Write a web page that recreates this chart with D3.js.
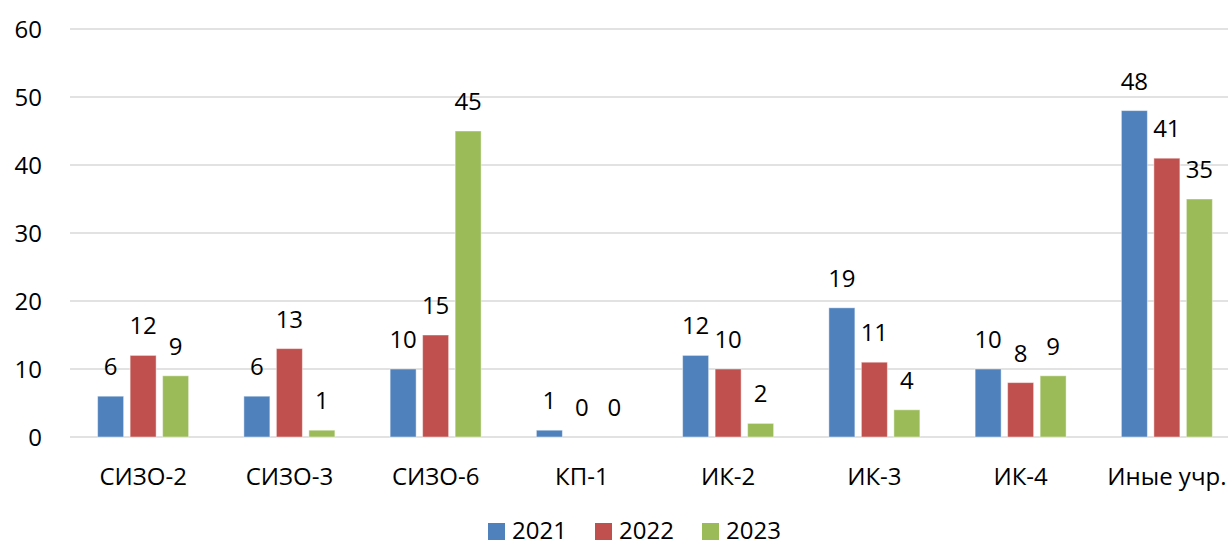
<!DOCTYPE html>
<html>
<head>
<meta charset="utf-8">
<script src="https://cdn.jsdelivr.net/npm/d3@7"></script>
<style>
  html, body { margin: 0; padding: 0; background: #fff; }
  svg { display: block; }
  text { font-family: "Open Sans", "Liberation Sans", sans-serif; fill: #000; }
</style>
</head>
<body>
<svg id="chart" width="1228" height="546"></svg>
<script>
const categories = ["СИЗО-2", "СИЗО-3", "СИЗО-6", "КП-1", "ИК-2", "ИК-3", "ИК-4", "Иные учр."];
const seriesNames = ["2021", "2022", "2023"];
const values2021 = [6, 6, 10, 1, 12, 19, 10, 48];
const values2022 = [12, 13, 15, 0, 10, 11, 8, 41];
const values2023 = [9, 1, 45, 0, 2, 4, 9, 35];
const yTicks = [0, 10, 20, 30, 40, 50, 60];
const colors = ["#4F81BD", "#C0504D", "#9BBB59"];

const series = [values2021, values2022, values2023];

const svg = d3.select("#chart");
const W = 1228, H = 546;
const plotLeft = 70, plotRight = 1240, plotTop = 29, plotBottom = 437;
const fontSize = 24;

const x = d3.scaleBand().domain(categories).range([plotLeft, plotRight]);
const y = d3.scaleLinear().domain([0, 60]).range([plotBottom, plotTop]);

// three bars per category, centred in each band
const bw = x.bandwidth();
const clusterHalf = 45.5;
const inner = d3.scaleBand().domain(seriesNames)
  .range([bw / 2 - clusterHalf, bw / 2 + clusterHalf])
  .paddingInner(0.2).paddingOuter(0);

// horizontal grid
svg.append("g")
  .selectAll("line")
  .data(yTicks)
  .join("line")
  .attr("x1", plotLeft)
  .attr("x2", W)
  .attr("y1", d => y(d))
  .attr("y2", d => y(d))
  .attr("stroke", "#D9D9D9")
  .attr("stroke-width", 1.5);

// y tick labels
svg.append("g")
  .selectAll("text")
  .data(yTicks)
  .join("text")
  .attr("x", 42)
  .attr("y", d => y(d))
  .attr("dy", "0.36em")
  .attr("text-anchor", "end")
  .attr("font-size", fontSize)
  .text(d => d);

// bars with value labels
const groups = svg.append("g")
  .selectAll("g")
  .data(categories)
  .join("g")
  .attr("transform", d => `translate(${x(d)},0)`);

groups.each(function (cat, ci) {
  const g = d3.select(this);
  seriesNames.forEach((s, si) => {
    const v = series[si][ci];
    g.append("rect")
      .attr("x", inner(s))
      .attr("width", inner.bandwidth())
      .attr("y", y(v))
      .attr("height", y(0) - y(v))
      .attr("fill", colors[si])
      .attr("stroke", "#fff")
      .attr("stroke-opacity", 0.45)
      .attr("stroke-width", 1);
    g.append("text")
      .attr("x", inner(s) + inner.bandwidth() / 2)
      .attr("y", y(v) - 21)
      .attr("text-anchor", "middle")
      .attr("font-size", fontSize)
      .text(v);
  });
});

// category labels
svg.append("g")
  .selectAll("text")
  .data(categories)
  .join("text")
  .attr("x", d => x(d) + bw / 2)
  .attr("y", 485)
  .attr("text-anchor", "middle")
  .attr("font-size", fontSize)
  .text(d => d);

// legend
const legendX = [488, 595, 702];
const legend = svg.append("g")
  .selectAll("g")
  .data(seriesNames)
  .join("g")
  .attr("transform", (d, i) => `translate(${legendX[i]},0)`);
legend.append("rect")
  .attr("x", 0).attr("y", 523)
  .attr("width", 17).attr("height", 17)
  .attr("fill", (d, i) => colors[i]);
legend.append("text")
  .attr("x", 24).attr("y", 539)
  .attr("font-size", fontSize)
  .text(d => d);
</script>
</body>
</html>
